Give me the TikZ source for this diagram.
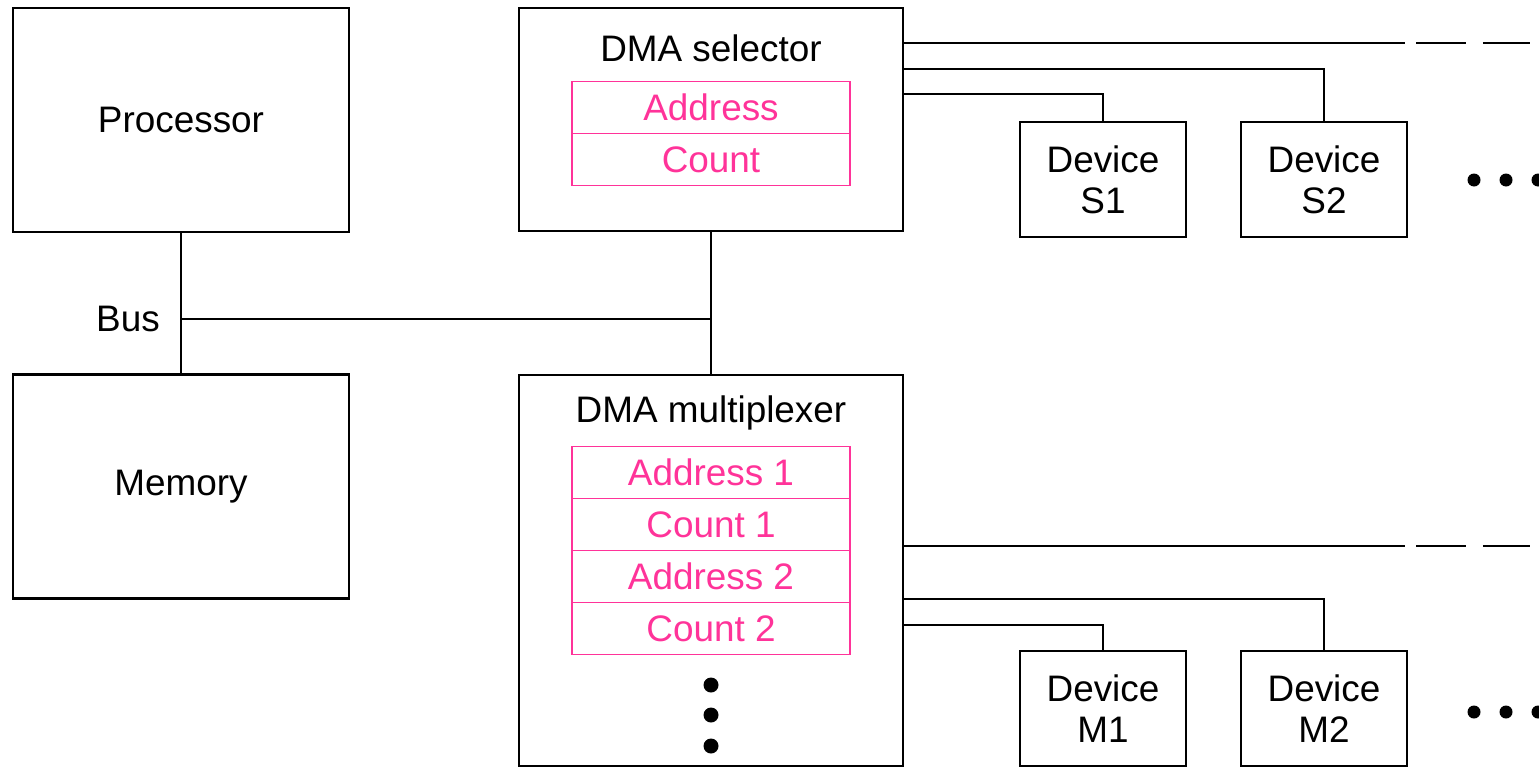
\documentclass[tikz,border=0pt]{standalone}
\usepackage{fontspec}
\setmainfont{Liberation Sans}
\usepackage{tikz}
\usetikzlibrary{positioning}
\definecolor{regpink}{RGB}{255,51,153}
\tikzset{unit box/.style={draw=black, line width=1.2pt, rectangle, outer sep=0pt, inner sep=0pt},
  reg cell/.style={draw=regpink, text=regpink, line width=0.9pt, rectangle, outer sep=0pt, inner sep=0pt, minimum width=5.56cm, minimum height=1.04cm},
  device/.style={unit box, minimum width=3.32cm, minimum height=2.3cm, align=center},
  wire/.style={line width=1.2pt},
  far wire/.style={line width=1.2pt, dash pattern=on 0pt off 0.22cm on 1cm off 0.34cm on 1cm off 1cm}}

\begin{document}
\begin{tikzpicture}[x=0.02cm, y=-0.02cm, font=\fontsize{21}{23.3}\selectfont]
\useasboundingbox (0,0) rectangle (1539,768);
\clip (0,0) rectangle (1539,768);
\node[unit box, minimum width=6.72cm, minimum height=4.48cm] (proc) at (181,120) {Processor};
\node[unit box, minimum width=6.72cm, minimum height=4.48cm] (mem) at (181,486.5) {Memory};
% DMA selector
\node[unit box, minimum width=7.68cm, minimum height=4.46cm] (sel) at (711,119.5) {};
\node (seltitle) at (711,48) {DMA selector};
\node[reg cell] (selA) at (711,107.5) {Address};
\node[reg cell, below=0pt of selA] (selC) {Count};
% DMA multiplexer
\node[unit box, minimum width=7.68cm, minimum height=7.82cm] (mux) at (711,570.5) {};
\node (muxtitle) at (711,413) {DMA multiplexer};
\node[reg cell] (muxA1) at (711,472.5) {Address 1};
\node[reg cell, below=0pt of muxA1] (muxC1) {Count 1};
\node[reg cell, below=0pt of muxC1] (muxA2) {Address 2};
\node[reg cell, below=0pt of muxA2] (muxC2) {Count 2};
\foreach \y in {685,715,746} \fill (711,\y) circle (0.15cm);
% devices
\node[device] (devS1) at (1103,179.5) {Device\\S1};
\node[device] (devS2) at (1324,179.5) {Device\\S2};
\node[device] (devM1) at (1103,708.5) {Device\\M1};
\node[device] (devM2) at (1324,708.5) {Device\\M2};
\foreach \x in {1474,1506,1538} {
  \fill (\x,180) circle (0.13cm);
  \fill (\x,712) circle (0.13cm);
}
% bus
\coordinate (bus) at (181,319);
\draw[wire] (proc) -- (mem);
\draw[wire] (sel) -- (mux);
\draw[wire] (bus) -- (bus -| sel);
\node[left=0.3cm of bus] (buslabel) {Bus};
% selector channels
\coordinate (selGap) at (1405,43);
\coordinate (selEnd) at (1530,43);
\draw[wire] (sel.east |- selGap) -- (selGap);
\draw[far wire] (selGap) -- (selEnd);
\draw[wire] ([yshift=-1.22cm]sel.north east) -| (devS2.north);
\draw[wire] ([yshift=-1.72cm]sel.north east) -| (devS1.north);
% multiplexer channels
\coordinate (muxGap) at (1405,546);
\coordinate (muxEnd) at (1530,546);
\draw[wire] (mux.east |- muxGap) -- (muxGap);
\draw[far wire] (muxGap) -- (muxEnd);
\draw[wire] ([yshift=-4.48cm]mux.north east) -| (devM2.north);
\draw[wire] ([yshift=-5cm]mux.north east) -| (devM1.north);
\end{tikzpicture}
\end{document}
